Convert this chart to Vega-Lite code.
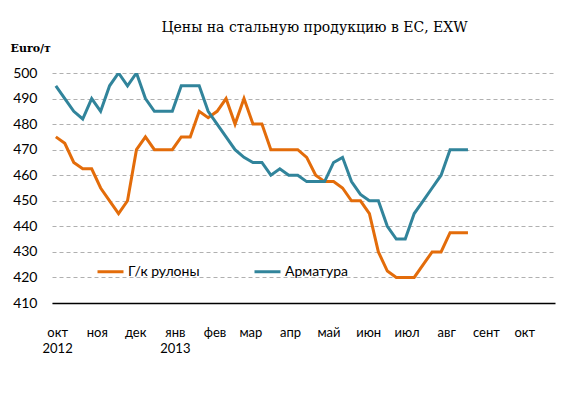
{
  "$schema": "https://vega.github.io/schema/vega-lite/v6.json",
  "width": 503,
  "height": 230,
  "autosize": "none",
  "padding": {"left": 52, "top": 73, "right": 25, "bottom": 95},
  "background": "white",
  "title": {
    "text": "Цены на стальную продукцию в ЕС, EXW",
    "font": "DejaVu Serif",
    "fontSize": 14,
    "fontWeight": "normal",
    "color": "#000000",
    "anchor": "middle",
    "offset": 7,
    "dx": 11
  },
  "datasets": {
    "rows": [
      {"date": "2012-09-30", "hr": 475, "ar": 495},
      {"date": "2012-10-07", "hr": 472.5, "ar": 490},
      {"date": "2012-10-14", "hr": 465, "ar": 485},
      {"date": "2012-10-21", "hr": 462.5, "ar": 482},
      {"date": "2012-10-28", "hr": 462.5, "ar": 490},
      {"date": "2012-11-04", "hr": 455, "ar": 485},
      {"date": "2012-11-11", "hr": 450, "ar": 495},
      {"date": "2012-11-18", "hr": 445, "ar": 500},
      {"date": "2012-11-25", "hr": 450, "ar": 495},
      {"date": "2012-12-02", "hr": 470, "ar": 500},
      {"date": "2012-12-09", "hr": 475, "ar": 490},
      {"date": "2012-12-16", "hr": 470, "ar": 485},
      {"date": "2012-12-23", "hr": 470, "ar": 485},
      {"date": "2012-12-30", "hr": 470, "ar": 485},
      {"date": "2013-01-06", "hr": 475, "ar": 495},
      {"date": "2013-01-13", "hr": 475, "ar": 495},
      {"date": "2013-01-20", "hr": 485, "ar": 495},
      {"date": "2013-01-27", "hr": 482.5, "ar": 485},
      {"date": "2013-02-03", "hr": 485, "ar": 480},
      {"date": "2013-02-10", "hr": 490, "ar": 475},
      {"date": "2013-02-17", "hr": 480, "ar": 470},
      {"date": "2013-02-24", "hr": 490, "ar": 467},
      {"date": "2013-03-03", "hr": 480, "ar": 465},
      {"date": "2013-03-10", "hr": 480, "ar": 465},
      {"date": "2013-03-17", "hr": 470, "ar": 460},
      {"date": "2013-03-24", "hr": 470, "ar": 462.5},
      {"date": "2013-03-31", "hr": 470, "ar": 460},
      {"date": "2013-04-07", "hr": 470, "ar": 460},
      {"date": "2013-04-14", "hr": 467, "ar": 457.5},
      {"date": "2013-04-21", "hr": 460, "ar": 457.5},
      {"date": "2013-04-28", "hr": 457.5, "ar": 457.5},
      {"date": "2013-05-05", "hr": 457.5, "ar": 465},
      {"date": "2013-05-12", "hr": 455, "ar": 467},
      {"date": "2013-05-19", "hr": 450, "ar": 457.5},
      {"date": "2013-05-26", "hr": 450, "ar": 452.5},
      {"date": "2013-06-02", "hr": 445, "ar": 450},
      {"date": "2013-06-09", "hr": 430, "ar": 450},
      {"date": "2013-06-16", "hr": 422.5, "ar": 440},
      {"date": "2013-06-23", "hr": 420, "ar": 435},
      {"date": "2013-06-30", "hr": 420, "ar": 435},
      {"date": "2013-07-07", "hr": 420, "ar": 445},
      {"date": "2013-07-14", "hr": 425, "ar": 450},
      {"date": "2013-07-21", "hr": 430, "ar": 455},
      {"date": "2013-07-28", "hr": 430, "ar": 460},
      {"date": "2013-08-04", "hr": 437.5, "ar": 470},
      {"date": "2013-08-11", "hr": 437.5, "ar": 470},
      {"date": "2013-08-18", "hr": 437.5, "ar": 470}
    ]
  },
  "data": {"name": "rows"},
  "transform": [
    {"fold": ["hr", "ar"], "as": ["key", "value"]},
    {"lookup": "key", "from": {"data": {"values": [{"key": "hr", "series": "Г/к рулоны"}, {"key": "ar", "series": "Арматура"}]}, "key": "key", "fields": ["series"]}}
  ],
  "mark": {"type": "line", "strokeWidth": 3, "strokeJoin": "miter", "clip": true},
  "encoding": {
    "x": {
      "field": "date",
      "type": "temporal",
      "scale": {"domain": ["2012-09-27", "2013-10-25"]},
      "axis": {
        "title": null,
        "grid": false,
        "ticks": false,
        "domain": true,
        "domainColor": "#000000",
        "domainWidth": 1.5,
        "tickCount": {"interval": "month", "step": 1},
        "labelExpr": "month(datum.value) == 9 && year(datum.value) == 2012 ? ['окт', '2012'] : (month(datum.value) == 0 ? ['янв', '2013'] : ['янв','фев','мар','апр','май','июн','июл','авг','сент','окт','ноя','дек'][month(datum.value)])",
        "labelFont": "Lato",
        "labelFontSize": 13,
        "labelColor": "#000000",
        "labelPadding": 29,
        "labelLineHeight": 16,
        "labelOverlap": false,
        "labelFlush": false,
        "labelBaseline": "middle"
      }
    },
    "y": {
      "field": "value",
      "type": "quantitative",
      "scale": {"domain": [410, 500], "zero": false, "nice": false},
      "axis": {
        "title": "Euro/т",
        "titleAngle": 0,
        "titleX": -42,
        "titleY": -25,
        "titleAlign": "left",
        "titleBaseline": "middle",
        "titleFont": "DejaVu Serif",
        "titleFontSize": 11,
        "titleFontWeight": "bold",
        "titleColor": "#000000",
        "values": [410, 420, 430, 440, 450, 460, 470, 480, 490, 500],
        "domain": false,
        "ticks": false,
        "grid": true,
        "gridColor": "#b0b0b0",
        "gridDash": [4, 3],
        "gridWidth": 1,
        "labelFont": "Lato",
        "labelFontSize": 14,
        "labelColor": "#000000",
        "labelPadding": 15
      }
    },
    "color": {
      "field": "series",
      "type": "nominal",
      "scale": {"domain": ["Г/к рулоны", "Арматура"], "range": ["#E36C0A", "#31849B"]},
      "legend": {
        "title": null,
        "orient": "none",
        "legendX": 44,
        "legendY": 184,
        "direction": "horizontal",
        "symbolType": "stroke",
        "symbolSize": 676,
        "symbolStrokeWidth": 3,
        "labelFont": "Lato",
        "labelFontSize": 14,
        "labelColor": "#000000",
        "labelOffset": 3,
        "columnPadding": 48
      }
    }
  },
  "config": {"view": {"stroke": null}}
}
